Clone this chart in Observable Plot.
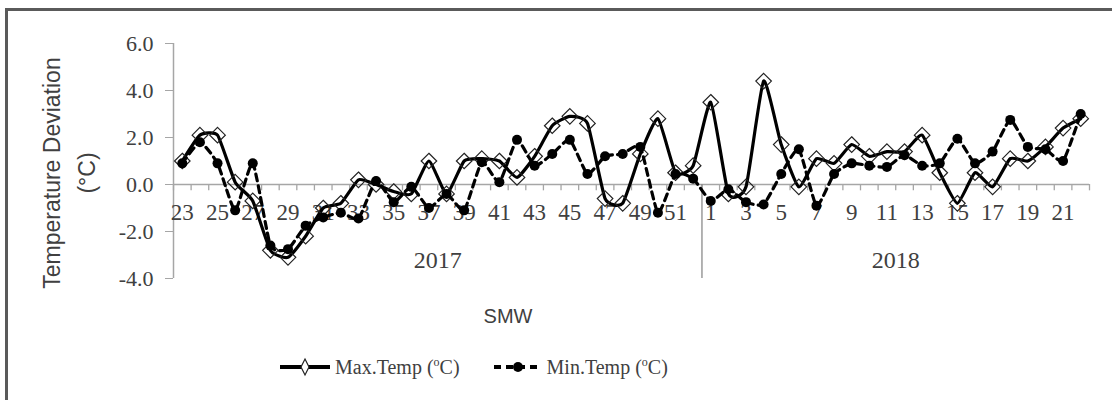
<!DOCTYPE html>
<html><head><meta charset="utf-8">
<script src="https://cdn.jsdelivr.net/npm/d3@7"></script>
<script src="https://cdn.jsdelivr.net/npm/@observablehq/plot@0.6"></script>
<style>
body{margin:0;background:#fff;}
#wrap{position:relative;width:1112px;height:400px;overflow:hidden;background:#fff;}
#frame{position:absolute;left:5px;top:8px;width:1130px;height:430px;border:3px solid #5a5a5a;box-sizing:border-box;}
#chart{position:absolute;left:0;top:0;}
#ytitle{position:absolute;left:-60px;top:138px;width:260px;height:70px;transform:rotate(-90deg);transform-origin:50% 50%;
  font-family:"Liberation Sans",Arial,sans-serif;font-size:23px;line-height:35px;text-align:center;color:#404040;}
#xtitle{position:absolute;left:458px;top:305px;width:100px;text-align:center;font-family:"Liberation Sans",Arial,sans-serif;font-size:20px;color:#404040;}
#legend{position:absolute;left:278px;top:355px;display:flex;align-items:center;font-family:"Liberation Serif","Times New Roman",serif;font-size:20px;color:#404040;}
.item{display:flex;align-items:center;}
.sup{font-size:12px;position:relative;top:-8px;}
</style></head>
<body>
<div id="wrap">
  <div id="chart"></div>
  <div id="frame"></div>
  <div id="ytitle">Temperature Deviation<br>(°C)</div>
  <div id="xtitle">SMW</div>
  <div id="legend">
    <div class="item">
      <svg width="54" height="24"><line x1="2" y1="12" x2="52" y2="12" stroke="#000" stroke-width="4"/><path d="M27 4 L31 12 L27 20 L23 12 Z" fill="#fff" stroke="#222" stroke-width="1.2"/></svg>
      <span style="margin-left:3px">Max.Temp (<span class="sup">o</span>C)</span>
    </div>
    <div class="item" style="margin-left:32px">
      <svg width="52" height="24"><line x1="2" y1="12" x2="50" y2="12" stroke="#000" stroke-width="4" stroke-dasharray="7,5"/><circle cx="26" cy="12" r="5" fill="#000"/></svg>
      <span style="margin-left:3px">Min.Temp (<span class="sup">o</span>C)</span>
    </div>
  </div>
</div>
<script>
const weeks = [23,24,25,26,27,28,29,30,31,32,33,34,35,36,37,38,39,40,41,42,43,44,45,46,47,48,49,50,51,52,
               1,2,3,4,5,6,7,8,9,10,11,12,13,14,15,16,17,18,19,20,21,22];
const years = weeks.map((w, i) => i < 30 ? 2017 : 2018);
const maxTemp = [1.0,2.1,2.1,0.1,-0.7,-2.8,-3.1,-2.2,-1.0,-0.8,0.2,0.0,-0.3,-0.4,1.0,-0.4,1.0,1.1,1.0,0.3,1.2,2.5,2.9,2.6,-0.6,-0.8,1.3,2.8,0.5,0.8,
                 3.5,-0.4,-0.1,4.4,1.7,-0.1,1.1,0.9,1.7,1.2,1.4,1.4,2.1,0.5,-0.8,0.5,-0.1,1.1,1.0,1.6,2.4,2.8];
const minTemp = [0.9,1.8,0.9,-1.1,0.9,-2.6,-2.75,-1.75,-1.4,-1.2,-1.45,0.15,-0.75,-0.1,-1.0,-0.4,-1.1,0.95,0.1,1.9,0.8,1.3,1.9,0.45,1.2,1.3,1.6,-1.2,0.45,0.25,
                 -0.7,-0.2,-0.75,-0.85,0.45,1.5,-0.9,0.45,0.9,0.8,0.75,1.25,0.8,0.9,1.95,0.9,1.4,2.75,1.6,1.5,1.0,3.0];
const yTicks = [-4,-2,0,2,4,6];

const rows = weeks.map((w, i) => ({i, week: w, year: years[i], max: maxTemp[i], min: minTemp[i]}));
const labelRows = rows.filter(d => d.i % 2 === 0);
const bounds = d3.range(weeks.length + 1).map(k => k - 0.5);
const groups = d3.groups(rows, d => d.year).map(([y, rs]) => ({year: String(y), mid: d3.mean(rs, r => r.i), start: rs[0].i - 0.5}));
const seps = groups.slice(1).map(g => g.start);
const axisGray = "#a6a6a6";

const chart = Plot.plot({
  width: 1112, height: 340,
  marginLeft: 173, marginRight: 23, marginTop: 43, marginBottom: 62,
  x: {domain: [-0.5, weeks.length - 0.5], axis: null},
  y: {domain: [-4, 6]},
  style: {fontFamily: "'Liberation Serif','Times New Roman',serif", fontSize: "22px", color: "#404040", background: "transparent", overflow: "visible"},
  marks: [
    Plot.axisY({ticks: yTicks, tickSize: 8, tickPadding: 12, tickFormat: d => d.toFixed(1), stroke: axisGray, label: null, fontSize: 22}),
    Plot.ruleX([-0.5], {y1: -4, y2: 6, stroke: axisGray, strokeWidth: 1.5}),
    Plot.ruleY([0], {stroke: axisGray, strokeWidth: 1.5}),
    Plot.ruleX(bounds, {x: d => d, y1: 0, y2: -0.27, stroke: axisGray, strokeWidth: 1.3}),
    Plot.ruleX(seps, {x: d => d, y1: 0, y2: -4, stroke: "#8a8a8a", strokeWidth: 1.3}),
    Plot.text(labelRows, {x: "i", y: 0, text: d => String(d.week), dy: 28, fontSize: 23, fill: "#404040"}),
    Plot.text(groups, {x: "mid", text: "year", frameAnchor: "bottom", dy: -11, fontSize: 24, fill: "#404040"}),
    Plot.line(rows, {x: "i", y: "max", stroke: "#000", strokeWidth: 3.2, curve: "cardinal", tension: 0.5}),
    Plot.dot(rows, {x: "i", y: "max", symbol: "diamond2", r: 7, stroke: "#222", strokeWidth: 1.2, fill: "none"}),
    Plot.line(rows, {x: "i", y: "min", stroke: "#000", strokeWidth: 3.2, strokeDasharray: "7,5", curve: "cardinal", tension: 0.5}),
    Plot.dot(rows, {x: "i", y: "min", r: 5, fill: "#000"})
  ]
});
document.getElementById("chart").appendChild(chart);
</script>
</body></html>
